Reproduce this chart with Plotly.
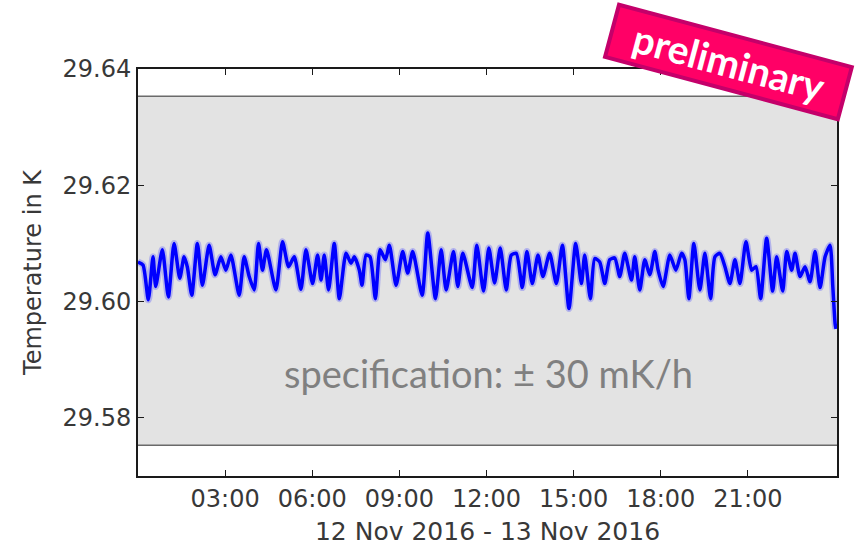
import pandas as pd
import plotly.graph_objects as go

# minutes after 12 Nov 2016 00:00
minutes = [0, 10.3, 21.3, 31.0, 36.6, 50.3, 62.7, 74.5, 86.3, 95.2, 102, 111.1, 122.7, 133.0, 146.9,
           159.3, 171.1, 181.5, 191.8, 209.0, 219.3, 229.7, 240.0, 248.9, 257.2, 265.5, 284.9, 298.6,
           311.0, 322.8, 336.6, 347.0, 360.6, 371.0, 378.1, 384.8, 393.7, 405.5, 415.9, 429.7, 440.1,
           446.9, 457.3, 462.8, 471.1, 479.4, 490.4, 500.1, 511.1, 519.3, 533.2, 546.8, 557.2, 567.5,
           587.0, 598.6, 614.5, 626.3, 636.6, 651.7, 660.6, 671.0, 690.4, 699.9, 713.8, 724.8, 736.6,
           748.3, 760.8, 771.1, 781.5, 793.9, 803.4, 814.6, 826.2, 836.5, 850.4, 864.2, 876.7, 890.3,
           904.2, 916.0, 922.8, 934.6, 943.5, 953.8, 964.2, 974.5, 984.9, 995.2, 1005.5, 1019.4,
           1026.2, 1036.6, 1046.9, 1057.3, 1067.6, 1074.5, 1084.8, 1098.7, 1111.1, 1122.8, 1129.7,
           1138.0, 1148.3, 1160.7, 1171.1, 1182.9, 1191.8, 1202.1, 1212.5, 1222.8, 1233.2, 1243.5,
           1255.9, 1267.7, 1276.6, 1286.3, 1298.7, 1311.1, 1319.4, 1331.8, 1340.1, 1350.4, 1357.3,
           1367.6, 1378.0, 1388.3, 1398.7, 1409.0, 1419.4, 1429.7, 1435.3, 1440.1, 1442.0]
temperature = [29.6068, 29.6063, 29.6003, 29.6077, 29.6026, 29.6089, 29.6008, 29.6100, 29.6040, 29.6077,
               29.6059, 29.6011, 29.6100, 29.6028, 29.6097, 29.6046, 29.6077, 29.6054, 29.6080, 29.6011,
               29.6077, 29.6043, 29.6020, 29.6100, 29.6054, 29.6089, 29.6020, 29.6103, 29.6060, 29.6077,
               29.6021, 29.6089, 29.6031, 29.6080, 29.6037, 29.6080, 29.6020, 29.6100, 29.6005, 29.6083,
               29.6066, 29.6077, 29.6054, 29.6028, 29.6080, 29.6077, 29.6005, 29.6089, 29.6072, 29.6097,
               29.6028, 29.6086, 29.6049, 29.6086, 29.6011, 29.6118, 29.6005, 29.6089, 29.6020, 29.6086,
               29.6026, 29.6083, 29.6024, 29.6097, 29.6018, 29.6092, 29.6032, 29.6092, 29.6020, 29.6080,
               29.6083, 29.6024, 29.6086, 29.6031, 29.6080, 29.6043, 29.6083, 29.6031, 29.6097, 29.5988,
               29.6100, 29.6031, 29.6080, 29.6005, 29.6074, 29.6068, 29.6031, 29.6072, 29.6075, 29.6043,
               29.6083, 29.6037, 29.6077, 29.6020, 29.6072, 29.6046, 29.6086, 29.6054, 29.6026, 29.6080,
               29.6054, 29.6083, 29.6072, 29.6005, 29.6100, 29.6020, 29.6083, 29.6005, 29.6077, 29.6083,
               29.6060, 29.6031, 29.6072, 29.6031, 29.6103, 29.6054, 29.6060, 29.6005, 29.6109, 29.6018,
               29.6077, 29.6018, 29.6086, 29.6054, 29.6083, 29.6043, 29.6060, 29.6034, 29.6086, 29.6024,
               29.6077, 29.6097, 29.6026, 29.5962, 29.5953]

spec_center = 29.6053
spec_tolerance = 0.030

y_ticks = [29.58, 29.60, 29.62, 29.64]
x_tick_hours = [3, 6, 9, 12, 15, 18, 21]

start = pd.Timestamp("2016-11-12 00:00")
times = start + pd.to_timedelta(minutes, unit="min")
x_ticks = [start + pd.Timedelta(hours=h) for h in x_tick_hours]
x_tick_text = [t.strftime("%H:%M") for t in x_ticks]

fig = go.Figure()
fig.add_trace(go.Scatter(x=times, y=temperature, mode="lines",
                         line=dict(color="rgba(70,70,255,0.3)", width=7, shape="spline", smoothing=0.6),
                         hoverinfo="skip", showlegend=False))
fig.add_trace(go.Scatter(x=times, y=temperature, mode="lines",
                         line=dict(color="#0000ff", width=3.5, shape="spline", smoothing=0.6),
                         showlegend=False))

x0 = start
x1 = start + pd.Timedelta(minutes=1444)
fig.add_shape(type="rect", xref="x", yref="y", x0=x0, x1=x1,
              y0=spec_center - spec_tolerance, y1=spec_center + spec_tolerance,
              fillcolor="#e3e3e3", line=dict(width=0), layer="below")
for yy in (spec_center - spec_tolerance, spec_center + spec_tolerance):
    fig.add_shape(type="line", xref="x", yref="y", x0=x0, x1=x1, y0=yy, y1=yy,
                  line=dict(color="#6a6a6a", width=1.5), layer="below")

fig.add_annotation(x=start + pd.Timedelta(minutes=725), y=29.5877, xref="x", yref="y",
                   text="specification: ± 30 mK/h", showarrow=False,
                   font=dict(family="Lato", size=38, color="#808080"))

fig.add_annotation(x=0.845, y=1.018, xref="paper", yref="paper", xanchor="center", yanchor="middle",
                   text="&nbsp;&nbsp;preliminary&nbsp;&nbsp;",
                   showarrow=False, textangle=15,
                   font=dict(family="Lato", size=39, color="white", weight="bold"),
                   bgcolor="#ff0066", bordercolor="#c4006a", borderwidth=4, borderpad=2)

tick_font = dict(family="DejaVu Sans", size=24, color="#383838")
axis_common = dict(showline=True, linecolor="#1a1a1a", linewidth=2, mirror="ticks",
                   ticks="inside", ticklen=6, tickwidth=1, tickcolor="#1a1a1a",
                   showgrid=False, zeroline=False, automargin=False, tickfont=tick_font)

fig.update_xaxes(range=[x0, x1], tickvals=x_ticks, ticktext=x_tick_text,
                 title=dict(text="12 Nov 2016 - 13 Nov 2016", standoff=12,
                            font=dict(family="DejaVu Sans", size=25, color="#383838")),
                 **axis_common)
fig.update_yaxes(range=[29.57, 29.64], tickvals=y_ticks, ticktext=[f"{v:.2f}" for v in y_ticks],
                 title=dict(text="Temperature in K", standoff=14,
                            font=dict(family="DejaVu Sans", size=24, color="#383838")),
                 **axis_common)

fig.update_layout(width=865, height=546, margin=dict(l=138, r=28, t=69, b=70, autoexpand=False),
                  plot_bgcolor="white", paper_bgcolor="white")
fig.write_html("out.html", config={"displayModeBar": False},
               post_script="document.body.style.margin='0';")
